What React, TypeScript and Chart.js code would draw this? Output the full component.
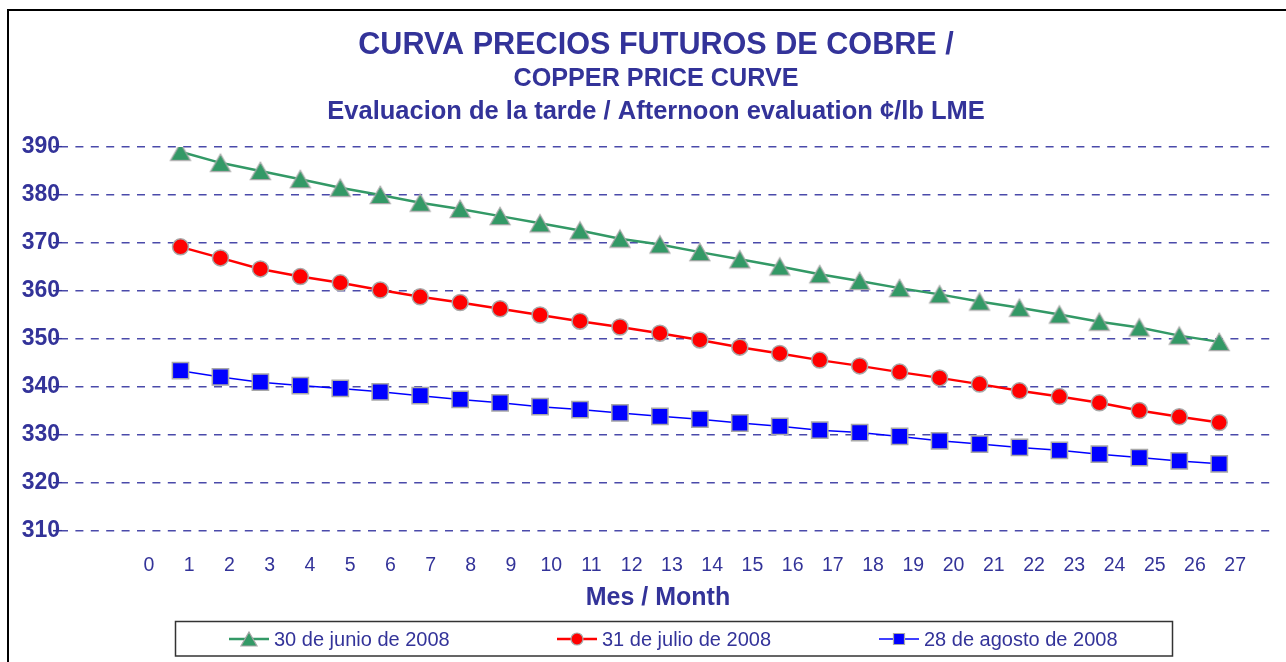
import React, { useEffect, useRef } from 'react';
import { Chart, registerables } from 'chart.js';

Chart.register(...registerables);

const TITLE_LINES = [
  'CURVA PRECIOS FUTUROS DE COBRE /',
  'COPPER PRICE CURVE',
  'Evaluacion de la tarde / Afternoon evaluation ¢/lb LME',
];
const X_TITLE = 'Mes / Month';
const SERIES_NAMES = ['30 de junio de 2008', '31 de julio de 2008', '28 de agosto de 2008'];

const MONTHS = [1, 2, 3, 4, 5, 6, 7, 8, 9, 10, 11, 12, 13, 14, 15, 16, 17, 18, 19, 20, 21, 22, 23, 24, 25, 26, 27];
const X_TICKS = [0, 1, 2, 3, 4, 5, 6, 7, 8, 9, 10, 11, 12, 13, 14, 15, 16, 17, 18, 19, 20, 21, 22, 23, 24, 25, 26, 27];
const Y_TICKS = [310, 320, 330, 340, 350, 360, 370, 380, 390];

const JUNE = [389.0, 386.7, 385.0, 383.3, 381.5, 380.0, 378.4, 377.1, 375.6, 374.1, 372.6, 370.9, 369.7, 368.1, 366.6, 365.1, 363.5, 362.1, 360.6, 359.3, 357.8, 356.5, 355.1, 353.6, 352.4, 350.7, 349.4];
const JULY = [369.2, 366.9, 364.6, 363.0, 361.7, 360.2, 358.8, 357.6, 356.3, 355.0, 353.7, 352.5, 351.2, 349.8, 348.3, 347.0, 345.6, 344.4, 343.1, 341.9, 340.6, 339.2, 338.0, 336.7, 335.1, 333.8, 332.6];
const AUGUST = [343.4, 342.1, 341.0, 340.3, 339.7, 339.0, 338.2, 337.4, 336.7, 335.9, 335.3, 334.6, 333.9, 333.3, 332.5, 331.8, 331.0, 330.5, 329.7, 328.8, 328.1, 327.4, 326.8, 326.0, 325.3, 324.6, 324.0];

const FONT = '"Liberation Sans", Arial, sans-serif';
const TEXT = '#333399';
const GRID = '#4a4aaa';
const GREEN = '#339966';
const RED = '#ff0000';
const BLUE = '#0000ff';
const MARKER_BORDER = '#a8a8a8';

function drawMarker(ctx: CanvasRenderingContext2D, kind: string, x: number, y: number, r: number, fill: string) {
  ctx.beginPath();
  if (kind === 'triangle') {
    // bounding-box centred triangle (Excel style)
    const w = r * 1.15;
    const h = r;
    ctx.moveTo(x, y - h);
    ctx.lineTo(x + w, y + h);
    ctx.lineTo(x - w, y + h);
    ctx.closePath();
  } else if (kind === 'circle') {
    ctx.arc(x, y, r, 0, Math.PI * 2);
  } else {
    ctx.rect(x - r, y - r, 2 * r, 2 * r);
  }
  ctx.fillStyle = fill;
  ctx.fill();
  ctx.lineWidth = 1.2;
  ctx.strokeStyle = MARKER_BORDER;
  ctx.stroke();
}

function triangleImage(fill: string): HTMLCanvasElement {
  const c = document.createElement('canvas');
  c.width = 24;
  c.height = 22;
  const ctx = c.getContext('2d')!;
  drawMarker(ctx, 'triangle', 12, 11, 8.7, fill);
  return c;
}

const decor = {
  id: 'decor',
  afterDraw(chart: any) {
    const ctx: CanvasRenderingContext2D = chart.ctx;
    ctx.save();
    // outer frame
    ctx.fillStyle = '#000';
    ctx.fillRect(7, 9, 2, 700);
    ctx.fillRect(7, 9, 1300, 2);
    // titles
    ctx.fillStyle = TEXT;
    ctx.textAlign = 'center';
    ctx.textBaseline = 'middle';
    ctx.font = `bold 30.6px ${FONT}`;
    ctx.fillText(TITLE_LINES[0], 656, 46);
    ctx.font = `bold 25.2px ${FONT}`;
    ctx.fillText(TITLE_LINES[1], 656, 79);
    ctx.font = `bold 25.5px ${FONT}`;
    ctx.fillText(TITLE_LINES[2], 656, 112);
    // x axis title
    ctx.font = `bold 25px ${FONT}`;
    ctx.fillText(X_TITLE, 658, 598);
    // legend
    ctx.lineWidth = 1.5;
    ctx.strokeStyle = '#333';
    ctx.strokeRect(175.5, 621.5, 997, 34.5);
    const starts = [229, 557, 879];
    const sizes: Record<string, number> = { triangle: 7, circle: 6, rect: 5.5 };
    chart.data.datasets.forEach((ds: any, i: number) => {
      const x0 = starts[i];
      const y0 = 639;
      ctx.strokeStyle = ds.borderColor;
      ctx.lineWidth = ds.borderWidth;
      ctx.beginPath();
      ctx.moveTo(x0, y0);
      ctx.lineTo(x0 + 40, y0);
      ctx.stroke();
      drawMarker(ctx, ds.markerKind, x0 + 20, y0, sizes[ds.markerKind], ds.pointBackgroundColor);
      ctx.fillStyle = TEXT;
      ctx.font = `20px ${FONT}`;
      ctx.textAlign = 'left';
      ctx.textBaseline = 'middle';
      ctx.fillText(ds.label, x0 + 45, y0 + 1);
    });
    ctx.restore();
  },
};

function makeDataset(label: string, values: number[], color: string, kind: string, radius: number, width: number) {
  return {
    label,
    markerKind: kind,
    data: MONTHS.map((m, i) => ({ x: m, y: values[i] })),
    xAxisID: 'x',
    yAxisID: 'y',
    borderColor: color,
    borderWidth: width,
    backgroundColor: color,
    pointStyle: kind === 'triangle' ? triangleImage(color) : kind,
    pointRadius: radius,
    pointBackgroundColor: color,
    pointBorderColor: MARKER_BORDER,
    pointBorderWidth: 1.5,
    tension: 0,
    fill: false,
  };
}

export default function App() {
  const ref = useRef<HTMLCanvasElement>(null);
  useEffect(() => {
    if (!ref.current) return;
    const chart = new Chart(ref.current, {
      type: 'line',
      data: {
        datasets: [
          makeDataset(SERIES_NAMES[0], JUNE, GREEN, 'triangle', 10, 2.5),
          makeDataset(SERIES_NAMES[1], JULY, RED, 'circle', 8, 2.5),
          makeDataset(SERIES_NAMES[2], AUGUST, BLUE, 'rect', 11.5, 1.5),
        ] as any,
      },
      options: {
        responsive: false,
        animation: false,
        layout: { padding: { top: 147, right: 8, bottom: 0, left: 0 } },
        plugins: { legend: { display: false }, title: { display: false }, tooltip: { enabled: false } },
        scales: {
          x: { type: 'linear', display: false, min: -1.966, max: 28.346 },
          xl: {
            type: 'linear',
            position: 'bottom',
            min: -2.161,
            max: 27.94,
            afterBuildTicks: (s: any) => { s.ticks = X_TICKS.map((v) => ({ value: v })); },
            afterFit: (s: any) => { s.height = 131; },
            grid: { display: false, drawTicks: false },
            border: { display: false },
            ticks: { color: TEXT, font: { family: FONT, size: 19.5 }, padding: 23, maxRotation: 0, autoSkip: false },
          },
          y: {
            type: 'linear',
            min: 310,
            max: 390,
            afterBuildTicks: (s: any) => { s.ticks = Y_TICKS.map((v) => ({ value: v })); },
            afterFit: (s: any) => { s.width = 62; },
            grid: { color: GRID, lineWidth: 1.4, drawTicks: true, tickLength: 9, tickColor: TEXT, tickWidth: 1.5, tickBorderDash: [] } as any,
            border: { display: false, dash: [8, 7.4], dashOffset: 2 },
            ticks: { color: TEXT, font: { family: FONT, size: 23, weight: 'bold' }, padding: -7 },
          },
        } as any,
      },
      plugins: [decor],
    });
    return () => chart.destroy();
  }, []);
  return (
    <div style={{ position: 'fixed', left: 0, top: 0, width: 1286, height: 662, background: '#fff' }}>
      <canvas ref={ref} width={1286} height={662} style={{ display: 'block' }} />
    </div>
  );
}
